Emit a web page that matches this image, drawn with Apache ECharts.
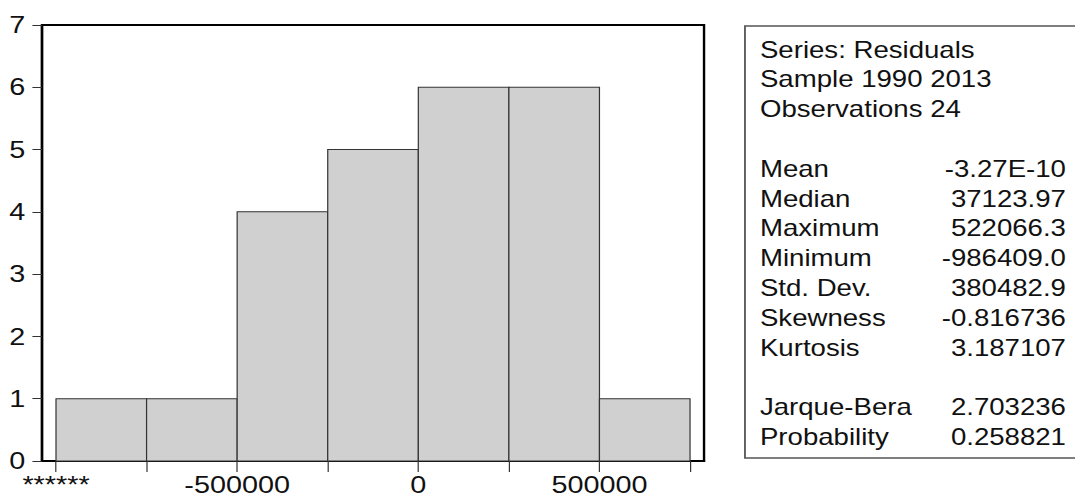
<!DOCTYPE html>
<html>
<head>
<meta charset="utf-8">
<script src="https://cdn.jsdelivr.net/npm/echarts@6/dist/echarts.min.js"></script>
<style>
html,body{margin:0;padding:0;background:#fff;overflow:hidden;}
#c{width:896px;height:503px;transform:scaleX(1.2);transform-origin:0 0;}
</style>
</head>
<body>
<div id="c"></div>
<script>
// ---- data ----
const binEdges = [-1000000, -750000, -500000, -250000, 0, 250000, 500000, 750000];
const counts = [1, 1, 4, 5, 6, 6, 1];
const xTickValues = [-1000000, -750000, -500000, -250000, 0, 250000, 500000, 750000];
const xLabelValues = [-1000000, -500000, 0, 500000];
const xLabelTexts = ['******', '-500000', '0', '500000'];
const yTicks = [0, 1, 2, 3, 4, 5, 6, 7];
const statLabels = ['Series: Residuals', 'Sample 1990 2013', 'Observations 24', '',
  'Mean', 'Median', 'Maximum', 'Minimum', 'Std. Dev.', 'Skewness', 'Kurtosis', '',
  'Jarque-Bera', 'Probability'];
const statValues = ['', '', '', '',
  '-3.27E-10', '37123.97', '522066.3', '-986409.0', '380482.9', '-0.816736', '3.187107', '',
  '2.703236', '0.258821'];

const barData = counts.map((c, i) => [binEdges[i], binEdges[i + 1], c]);

const FONT = '"Liberation Sans", Arial, sans-serif';
const chart = echarts.init(document.getElementById('c'), null, {renderer: 'svg'});

const graphics = [{
  type: 'rect', z: 10,
  shape: {x: 620.8, y: 26, width: 400, height: 432},
  style: {fill: '#fff', stroke: '#555', lineWidth: 1.5}
}];
statLabels.forEach((t, i) => {
  const y = 49.5 + 29.8 * i;
  if (t) graphics.push({type: 'text', z: 11, x: 633.3, y: y,
    style: {text: t, font: '23px ' + FONT, fill: '#111', textAlign: 'left', textVerticalAlign: 'middle'}});
  if (statValues[i]) graphics.push({type: 'text', z: 11, x: 888.3, y: y,
    style: {text: statValues[i], font: '23px ' + FONT, fill: '#111', textAlign: 'right', textVerticalAlign: 'middle'}});
});

chart.setOption({
  animation: false,
  backgroundColor: '#fff',
  grid: {left: 35, right: 309.3, top: 25, bottom: 42, show: true,
    borderColor: '#000', borderWidth: 2, backgroundColor: 'transparent'},
  xAxis: {
    type: 'value', min: -1038640, max: 788640,
    splitLine: {show: false},
    axisLine: {show: true, onZero: false, lineStyle: {color: '#000', width: 2}},
    axisTick: {show: true, inside: false, length: 11, customValues: xTickValues,
      lineStyle: {color: '#333', width: 1}},
    axisLabel: {show: true, customValues: xLabelValues, margin: 12,
      fontFamily: FONT, fontSize: 24, color: '#111',
      formatter: v => {const k = xLabelValues.indexOf(v); return k >= 0 ? xLabelTexts[k] : '';}}
  },
  yAxis: {
    type: 'value', min: 0, max: 7, interval: 1,
    splitLine: {show: false},
    axisLine: {show: true, onZero: false, lineStyle: {color: '#000', width: 2}},
    axisTick: {show: true, inside: false, length: 8, lineStyle: {color: '#333', width: 1}},
    axisLabel: {show: true, margin: 14, fontFamily: FONT, fontSize: 24, color: '#111',
      formatter: v => yTicks.indexOf(v) >= 0 ? String(v) : ''}
  },
  series: [{
    type: 'custom',
    data: barData,
    encode: {x: [0, 1], y: 2},
    renderItem: (params, api) => {
      const p0 = api.coord([api.value(0), api.value(2)]);
      const p1 = api.coord([api.value(1), 0]);
      return {type: 'rect',
        shape: {x: p0[0], y: p0[1], width: p1[0] - p0[0], height: p1[1] - p0[1]},
        style: {fill: '#d0d0d0', stroke: '#333', lineWidth: 1}};
    }
  }],
  graphic: graphics
});
</script>
</body>
</html>
